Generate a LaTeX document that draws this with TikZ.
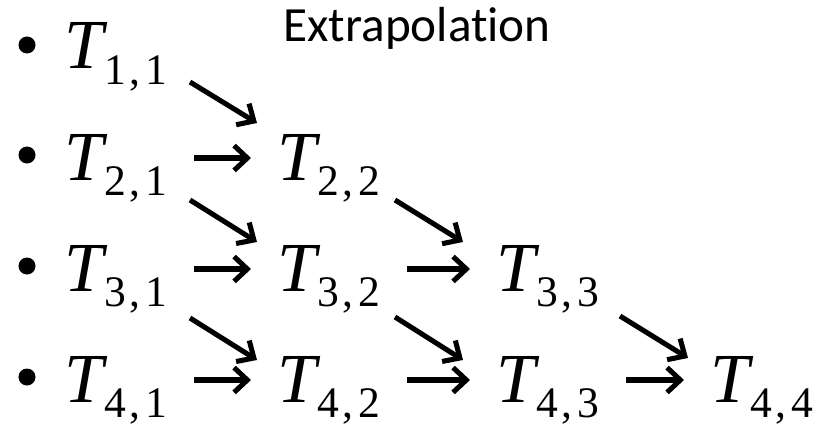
\documentclass[tikz,border=0pt]{standalone}
\usepackage{fontspec}
\newfontfamily\labelfont[Ligatures=NoCommon]{Carlito}
\newfontfamily\termfont{Liberation Serif}
\usepackage{tikz}
\usetikzlibrary{arrows.meta,positioning,calc}

% T com indices
\newcommand{\Tij}[2]{{\itshape T}\kern1pt\raisebox{-0.38cm}{\fontsize{31}{34}\selectfont #1\kern2pt,\kern4pt#2}}

\tikzset{
  term/.style={anchor=base west, inner sep=0pt, font=\termfont\fontsize{50}{60}\selectfont},
  dot/.style={circle, fill=black, inner sep=0pt, minimum size=0.425cm},
  arr/.style={-{Straight Barb[length=0.33cm, width=0.62cm]}, line width=3.6pt},
  hor/.style={arr, shorten <=0.65cm, shorten >=0.65cm},
}

\begin{document}
\begin{tikzpicture}[x=0.025cm, y=-0.025cm]
        \useasboundingbox (0,0) rectangle (832,426);
        % Titulo
        \node[anchor=base west, inner sep=0pt, font=\labelfont\fontsize{35}{42}\selectfont] (titulo) at (283,42) {Extrapolation};
        % Marcadores
        \node[dot] (b1) at (27,45) {};
        \node[dot] (b2) at (27,155) {};
        \node[dot] (b3) at (27,266) {};
        \node[dot] (b4) at (27,377) {};
        % Tabela T_{i,j}
        \node[term] (t11) at (64,69) {\Tij{1}{1}};
        \node[term] (t21) at (64,180) {\Tij{2}{1}};
        \node[term] (t22) at (277,180) {\Tij{2}{2}};
        \node[term] (t31) at (64,291) {\Tij{3}{1}};
        \node[term] (t32) at (277,291) {\Tij{3}{2}};
        \node[term] (t33) at (496,291) {\Tij{3}{3}};
        \node[term] (t41) at (64,402) {\Tij{4}{1}};
        \node[term] (t42) at (277,402) {\Tij{4}{2}};
        \node[term] (t43) at (496,402) {\Tij{4}{3}};
        \node[term] (t44) at (710,402) {\Tij{4}{4}};
        % Setas horizontais
        \draw[hor] ([yshift=0.55cm]t21.base east) -- ([yshift=0.55cm]t22.base west);
        \draw[hor] ([yshift=0.55cm]t31.base east) -- ([yshift=0.55cm]t32.base west);
        \draw[hor] ([yshift=0.55cm]t32.base east) -- ([yshift=0.55cm]t33.base west);
        \draw[hor] ([yshift=0.55cm]t41.base east) -- ([yshift=0.55cm]t42.base west);
        \draw[hor] ([yshift=0.55cm]t42.base east) -- ([yshift=0.55cm]t43.base west);
        \draw[hor] ([yshift=0.55cm]t43.base east) -- ([yshift=0.55cm]t44.base west);
        % Setas diagonais
        \draw[arr] ([shift={(22,13)}]t11.base east) -- ([shift={(-20,-57)}]t22.base west);
        \draw[arr] ([shift={(22,20)}]t21.base east) -- ([shift={(-20,-49)}]t32.base west);
        \draw[arr] ([shift={(14,20)}]t22.base east) -- ([shift={(-33,-49)}]t33.base west);
        \draw[arr] ([shift={(22,27)}]t31.base east) -- ([shift={(-20,-42)}]t42.base west);
        \draw[arr] ([shift={(14,26)}]t32.base east) -- ([shift={(-33,-42)}]t43.base west);
        \draw[arr] ([shift={(20,25)}]t33.base east) -- ([shift={(-22,-44)}]t44.base west);
\end{tikzpicture}
\end{document}
